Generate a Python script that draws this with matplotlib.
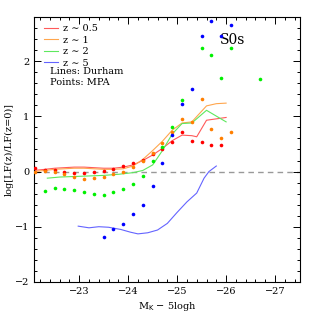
import matplotlib
matplotlib.use('Agg')
import matplotlib.pyplot as plt
from matplotlib.ticker import MultipleLocator

plt.rcParams['font.family'] = 'DejaVu Serif'

# MPA points (x = M_K - 5logh, y = log[LF(z)/LF(z=0)])
red_x = [-22.1, -22.3, -22.5, -22.7, -22.9, -23.1, -23.3, -23.5, -23.7, -23.9,
         -24.1, -24.3, -24.5, -24.7, -24.9, -25.1, -25.3, -25.5, -25.7, -25.9]
red_y = [0.06, 0.03, 0.03, -0.01, -0.03, -0.02, -0.01, 0.01, 0.05, 0.10,
         0.15, 0.21, 0.32, 0.40, 0.53, 0.72, 0.56, 0.54, 0.48, 0.48]

orange_x = [-22.1, -22.3, -22.5, -22.7, -22.9, -23.1, -23.3, -23.5, -23.7, -23.9,
            -24.1, -24.3, -24.5, -24.7, -24.9, -25.1, -25.3, -25.5, -25.7, -25.9, -26.1]
orange_y = [0.0, 0.01, 0.0, -0.05, -0.09, -0.13, -0.12, -0.10, -0.05, 0.0,
            0.08, 0.19, 0.34, 0.51, 0.71, 0.96, 0.89, 1.32, 0.78, 0.60, 0.71]

green_x = [-22.3, -22.5, -22.7, -22.9, -23.1, -23.3, -23.5, -23.7, -23.9,
           -24.1, -24.3, -24.5, -24.7, -24.9, -25.1, -25.5, -25.7, -25.9, -26.1, -26.7]
green_y = [-0.35, -0.30, -0.32, -0.33, -0.37, -0.40, -0.42, -0.37, -0.32,
           -0.23, -0.08, 0.19, 0.44, 0.81, 1.30, 2.24, 2.12, 1.69, 2.24, 1.68]

blue_x = [-23.5, -23.7, -23.9, -24.1, -24.3, -24.5, -24.7, -24.9, -25.1,
          -25.3, -25.5, -25.7, -25.9, -26.1]
blue_y = [-1.18, -1.05, -0.95, -0.77, -0.61, -0.26, 0.15, 0.66, 1.23,
          1.50, 2.46, 2.72, 2.46, 2.65]

# Durham lines
red_lx = [-22.08, -22.3, -22.5, -22.7, -22.9, -23.1, -23.3, -23.5, -23.7, -23.9,
          -24.1, -24.3, -24.5, -24.7, -24.9, -25.1, -25.3, -25.4, -25.6, -26.0]
red_ly = [0.02, 0.04, 0.06, 0.07, 0.08, 0.08, 0.07, 0.06, 0.06, 0.08,
          0.12, 0.20, 0.30, 0.42, 0.56, 0.66, 0.65, 0.63, 0.93, 0.98]

orange_lx = [-22.08, -22.3, -22.5, -22.7, -22.9, -23.1, -23.3, -23.5, -23.7, -23.9,
             -24.1, -24.3, -24.5, -24.7, -24.9, -25.1, -25.3, -25.6, -25.8, -26.0]
orange_ly = [0.0, 0.02, 0.04, 0.05, 0.06, 0.06, 0.05, 0.04, 0.04, 0.05,
             0.10, 0.22, 0.38, 0.55, 0.75, 0.88, 0.90, 1.19, 1.23, 1.24]

green_lx = [-22.35, -22.6, -22.9, -23.2, -23.5, -23.8, -24.1, -24.3, -24.5,
            -24.7, -24.9, -25.1, -25.3, -25.6, -26.0]
green_ly = [-0.12, -0.10, -0.09, -0.08, -0.07, -0.05, -0.02, 0.02, 0.12,
            0.38, 0.68, 0.87, 0.88, 1.11, 0.90]

blue_lx = [-22.98, -23.2, -23.4, -23.6, -23.85, -24.05, -24.2, -24.4, -24.6,
           -24.8, -25.0, -25.2, -25.4, -25.55, -25.65, -25.8]
blue_ly = [-0.99, -1.02, -1.00, -1.01, -1.05, -1.10, -1.13, -1.11, -1.06,
           -0.94, -0.74, -0.55, -0.39, -0.12, 0.0, 0.10]

labels = ['z \u223c 0.5', 'z \u223c 1', 'z \u223c 2', 'z \u223c 5']

fig = plt.figure(figsize=(3.16, 3.16), dpi=100)
ax = fig.add_axes([0.108, 0.108, 0.840, 0.838])

ax.axhline(0, color='#999999', lw=1.0, ls=(0, (4, 3)), zorder=1)

ax.plot(red_lx, red_ly, color='#ff5a5a', lw=0.8, label=labels[0])
ax.plot(orange_lx, orange_ly, color='#ffa64d', lw=0.8, label=labels[1])
ax.plot(green_lx, green_ly, color='#5ee85e', lw=0.8, label=labels[2])
ax.plot(blue_lx, blue_ly, color='#6464ff', lw=0.8, label=labels[3])

ax.plot(red_x, red_y, 'o', color='#ff0000', ms=2.6, mew=0, zorder=4)
ax.plot(orange_x, orange_y, 'o', color='#ff7f00', ms=2.6, mew=0, zorder=4)
ax.plot(green_x, green_y, 'o', color='#00f000', ms=2.6, mew=0, zorder=4)
ax.plot(blue_x, blue_y, 'o', color='#0000ff', ms=2.6, mew=0, zorder=5)

ax.set_xlim(-22.08, -27.5)
ax.set_ylim(-2, 2.8)
ax.xaxis.set_major_locator(MultipleLocator(1))
ax.xaxis.set_minor_locator(MultipleLocator(0.2))
ax.yaxis.set_major_locator(MultipleLocator(1))
ax.yaxis.set_minor_locator(MultipleLocator(0.2))
ax.tick_params(which='both', direction='in', top=True, right=True, labelsize=7, width=0.7)
ax.tick_params(which='major', length=5)
ax.tick_params(which='minor', length=2.5)
for s in ax.spines.values():
    s.set_linewidth(0.8)

ax.set_xlabel('M$_{\\rm K}$ $-$ 5logh', fontsize=7, labelpad=3)
ax.set_ylabel('log[LF(z)/LF(z=0)]', fontsize=7, labelpad=1)

ax.legend(loc='upper left', frameon=False, fontsize=7, handlelength=1.4,
          handletextpad=0.6, labelspacing=0.25, borderaxespad=0.0,
          borderpad=0.2, bbox_to_anchor=(0.03, 0.98))
ax.text(0.06, 0.793, 'Lines: Durham', transform=ax.transAxes, fontsize=7, va='center')
ax.text(0.06, 0.754, 'Points: MPA', transform=ax.transAxes, fontsize=7, va='center')
ax.text(0.70, 0.913, 'S0s', transform=ax.transAxes, fontsize=10, va='center')

fig.savefig('out.png', dpi=100)
